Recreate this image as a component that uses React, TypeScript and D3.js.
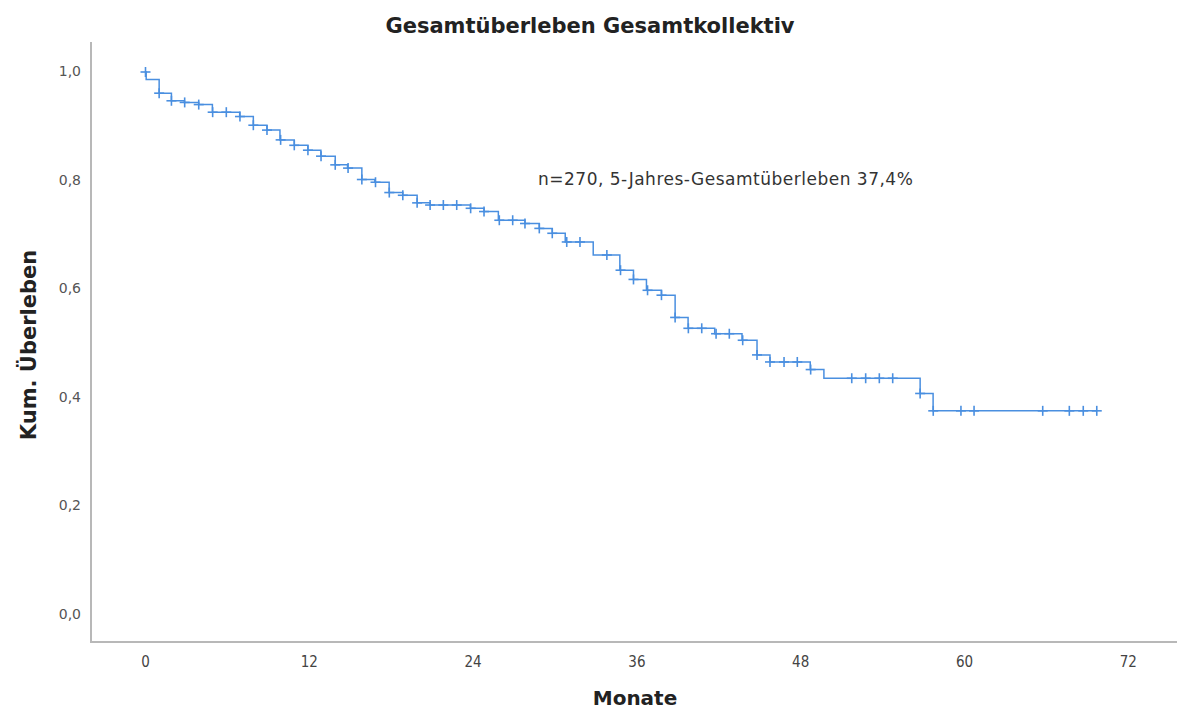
import React, { useRef, useEffect } from 'react';
import * as d3 from 'd3';

// Kaplan-Meier steps: time (months) of each drop and survival after it
const eventTimes = [0.05, 1.0, 1.9, 2.85, 3.9, 4.9, 6.9, 7.9, 8.9, 9.85, 10.9, 11.9, 12.85, 13.9, 14.8, 15.85, 16.8, 17.85, 18.85, 19.9, 20.85, 23.8, 24.8, 25.85, 27.8, 28.85, 29.8, 30.75, 32.8, 34.75, 35.75, 36.7, 37.8, 38.8, 39.75, 41.7, 43.7, 44.8, 45.75, 48.7, 49.7, 56.75, 57.7];
const survival = [0.986, 0.961, 0.947, 0.944, 0.94, 0.926, 0.918, 0.902, 0.893, 0.875, 0.865, 0.856, 0.845, 0.829, 0.823, 0.802, 0.797, 0.778, 0.773, 0.759, 0.755, 0.749, 0.743, 0.727, 0.721, 0.712, 0.703, 0.687, 0.663, 0.635, 0.618, 0.598, 0.589, 0.548, 0.528, 0.518, 0.506, 0.479, 0.466, 0.452, 0.436, 0.408, 0.376];

// censored observations (months)
const censorTimes = [0, 1.0, 1.9, 2.87, 3.9, 4.92, 5.92, 6.92, 7.9, 8.9, 9.9, 10.9, 11.9, 12.86, 13.9, 14.84, 15.85, 16.85, 17.86, 18.85, 19.9, 20.85, 21.82, 22.8, 23.82, 24.8, 25.92, 26.9, 27.8, 28.85, 29.8, 30.86, 31.83, 33.8, 34.8, 35.75, 36.78, 37.8, 38.8, 39.77, 40.75, 41.8, 42.77, 43.75, 44.8, 45.75, 46.78, 47.75, 48.73, 51.74, 52.76, 53.76, 54.74, 56.75, 57.71, 59.74, 60.7, 65.73, 67.68, 68.7, 69.69];

const xTicks = [0, 12, 24, 36, 48, 60, 72];
const yTicks = [0, 0.2, 0.4, 0.6, 0.8, 1.0];

const title = 'Gesamtüberleben Gesamtkollektiv';
const note = 'n=270, 5-Jahres-Gesamtüberleben 37,4%';
const xTitle = 'Monate';
const yTitle = 'Kum. Überleben';

const W = 1177;
const H = 712;

export default function App() {
  const svgRef = useRef<SVGSVGElement>(null);

  useEffect(() => {
    if (!svgRef.current) return;
    const svg = d3.select(svgRef.current);
    svg.selectAll('*').remove();

    const x = d3.scaleLinear().domain([0, 72]).range([145.5, 1128.3]);
    const y = d3.scaleLinear().domain([0, 1]).range([615, 72]);
    const blue = '#4a8fe0';
    const axisColor = '#b8b8b8';

    // axes lines
    svg.append('line')
      .attr('x1', 91).attr('x2', 91).attr('y1', 42).attr('y2', 642)
      .attr('stroke', axisColor).attr('stroke-width', 2);
    svg.append('line')
      .attr('x1', 90).attr('x2', W).attr('y1', 642).attr('y2', 642)
      .attr('stroke', axisColor).attr('stroke-width', 2);

    // tick labels
    svg.selectAll('.ytick')
      .data(yTicks)
      .enter()
      .append('text')
      .attr('x', 81)
      .attr('y', d => y(d))
      .attr('text-anchor', 'end')
      .attr('dominant-baseline', 'middle')
      .attr('font-family', 'DejaVu Sans, sans-serif')
      .attr('font-size', '14px')
      .attr('fill', '#555')
      .text(d => d3.format('.1f')(d).replace('.', ','));

    svg.selectAll('.xtick')
      .data(xTicks)
      .enter()
      .append('text')
      .attr('x', d => x(d))
      .attr('y', 662)
      .attr('text-anchor', 'middle')
      .attr('dominant-baseline', 'middle')
      .attr('font-family', 'Liberation Sans Narrow, DejaVu Sans Condensed, Liberation Sans, sans-serif')
      .attr('font-size', '15px')
      .attr('fill', '#444')
      .text(d => d);

    // titles
    svg.append('text')
      .attr('x', 590).attr('y', 27)
      .attr('text-anchor', 'middle').attr('dominant-baseline', 'middle')
      .attr('font-family', 'DejaVu Sans, sans-serif')
      .attr('font-weight', 'bold').attr('font-size', '21px')
      .attr('fill', '#222')
      .text(title);

    svg.append('text')
      .attr('x', 635).attr('y', 699)
      .attr('text-anchor', 'middle').attr('dominant-baseline', 'middle')
      .attr('font-family', 'DejaVu Sans, sans-serif')
      .attr('font-weight', 'bold').attr('font-size', '20px')
      .attr('fill', '#222')
      .text(xTitle);

    svg.append('text')
      .attr('transform', 'translate(30,345) rotate(-90)')
      .attr('text-anchor', 'middle').attr('dominant-baseline', 'middle')
      .attr('font-family', 'DejaVu Sans, sans-serif')
      .attr('font-weight', 'bold').attr('font-size', '21px')
      .attr('fill', '#222')
      .text(yTitle);

    svg.append('text')
      .attr('x', 538).attr('y', 180)
      .attr('dominant-baseline', 'middle')
      .attr('font-family', 'DejaVu Sans, sans-serif')
      .attr('font-size', '17px')
      .attr('letter-spacing', '0.5px')
      .attr('fill', '#333')
      .text(note);

    // step curve
    const maxTime = d3.max(censorTimes) as number;
    const pts: [number, number][] = [[0, 1]];
    eventTimes.forEach((t, i) => pts.push([t, survival[i]]));
    pts.push([maxTime, survival[survival.length - 1]]);

    const line = d3.line<[number, number]>()
      .x(d => x(d[0]))
      .y(d => y(d[1]))
      .curve(d3.curveStepAfter);

    svg.append('path')
      .datum(pts)
      .attr('d', line)
      .attr('fill', 'none')
      .attr('stroke', blue)
      .attr('stroke-width', 1.5);

    // censor marks
    const survAt = (t: number) => {
      let s = 1;
      eventTimes.forEach((e, i) => { if (e <= t + 0.02) s = survival[i]; });
      return s;
    };
    const arm = 5;
    const marks = svg.append('g').attr('stroke', blue).attr('stroke-width', 1.6);
    censorTimes.forEach(t => {
      const cx = x(t);
      const cy = y(survAt(t));
      marks.append('line').attr('x1', cx - arm).attr('x2', cx + arm).attr('y1', cy).attr('y2', cy);
      marks.append('line').attr('x1', cx).attr('x2', cx).attr('y1', cy - arm).attr('y2', cy + arm);
    });
  }, []);

  return (
    <div style={{ position: 'absolute', left: 0, top: 0 }}>
      <svg ref={svgRef} width={W} height={H} style={{ display: 'block', background: '#fff' }} />
    </div>
  );
}
